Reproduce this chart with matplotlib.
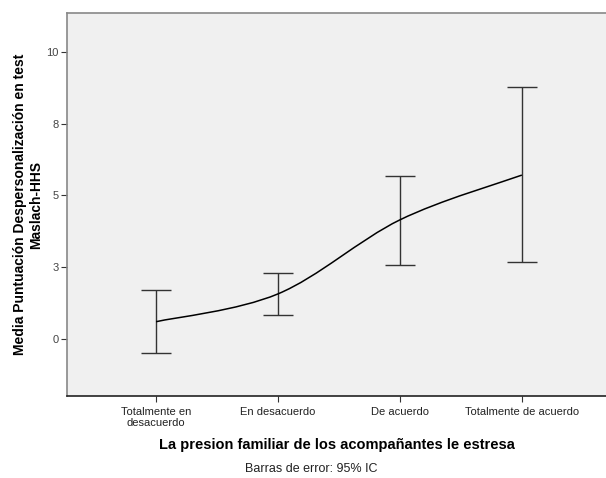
import numpy as np
import matplotlib.pyplot as plt
from matplotlib.path import Path
from matplotlib.patches import PathPatch

plt.rcParams['font.family'] = ['Liberation Sans', 'DejaVu Sans']

categories = ["Totalmente en\ndesacuerdo", "En desacuerdo", "De acuerdo", "Totalmente de acuerdo"]
means = [0.60, 1.57, 4.15, 5.71]
ci_low = [-0.50, 0.84, 2.58, 2.68]
ci_high = [1.71, 2.29, 5.69, 8.79]
yticks = [0, 2.5, 5, 7.5, 10]
yticklabels = ["0", "3", "5", "8", "10"]

fig = plt.figure(figsize=(6.06, 4.78), dpi=100)
ax = fig.add_axes([0.1106, 0.1715, 0.8894, 0.8013])
ax.set_facecolor("#F0F0F0")

x = np.arange(len(categories))
m = np.array(means)
lo = m - np.array(ci_low)
hi = np.array(ci_high) - m
ax.errorbar(x, m, yerr=[lo, hi], fmt='none', ecolor='#333333', elinewidth=1.0,
            capsize=10.8, capthick=1.0, zorder=2)

# smooth line through the means (Catmull-Rom as cubic bezier segments)
verts = [(x[0], m[0])]
codes = [Path.MOVETO]
for i in range(len(x) - 1):
    p0 = (x[max(i - 1, 0)], m[max(i - 1, 0)])
    p1 = (x[i], m[i])
    p2 = (x[i + 1], m[i + 1])
    p3 = (x[min(i + 2, len(x) - 1)], m[min(i + 2, len(x) - 1)])
    c1 = (p1[0] + (p2[0] - p0[0]) / 6, p1[1] + (p2[1] - p0[1]) / 6)
    c2 = (p2[0] - (p3[0] - p1[0]) / 6, p2[1] - (p3[1] - p1[1]) / 6)
    verts += [c1, c2, p2]
    codes += [Path.CURVE4] * 3
ax.add_patch(PathPatch(Path(verts, codes), facecolor='none', edgecolor='black', lw=1.1, zorder=3))

ax.set_xlim(-0.73, 3.69)
ax.set_ylim(-1.99, 11.36)
ax.set_xticks(x)
ax.set_xticklabels(categories, fontsize=8, color='#222222', linespacing=1.1)
ax.set_yticks(yticks)
ax.set_yticklabels(yticklabels, fontsize=8, color='#444444')
ax.tick_params(direction='out', length=4, width=0.8, color='#333333', pad=2)
ax.tick_params(axis='x', pad=4)

ax.spines['right'].set_visible(False)
ax.spines['top'].set_color('#888888')
ax.spines['left'].set_color('#888888')
ax.spines['bottom'].set_color('#222222')
for s in ['top', 'left', 'bottom']:
    ax.spines[s].set_linewidth(1.2)

ax.set_ylabel("Media Puntuación Despersonalización en test\nMaslach-HHS",
              fontsize=10, fontweight='bold', linespacing=1.2, labelpad=2)
ax.set_xlabel("La presion familiar de los acompañantes le estresa",
              fontsize=10.5, fontweight='bold', labelpad=7)
fig.text(0.513, 0.012, "Barras de error: 95% IC", fontsize=9, ha='center', color='#222222',
         family=['Liberation Sans Narrow', 'Liberation Sans', 'DejaVu Sans'])

fig.savefig("out.png", dpi=100)
